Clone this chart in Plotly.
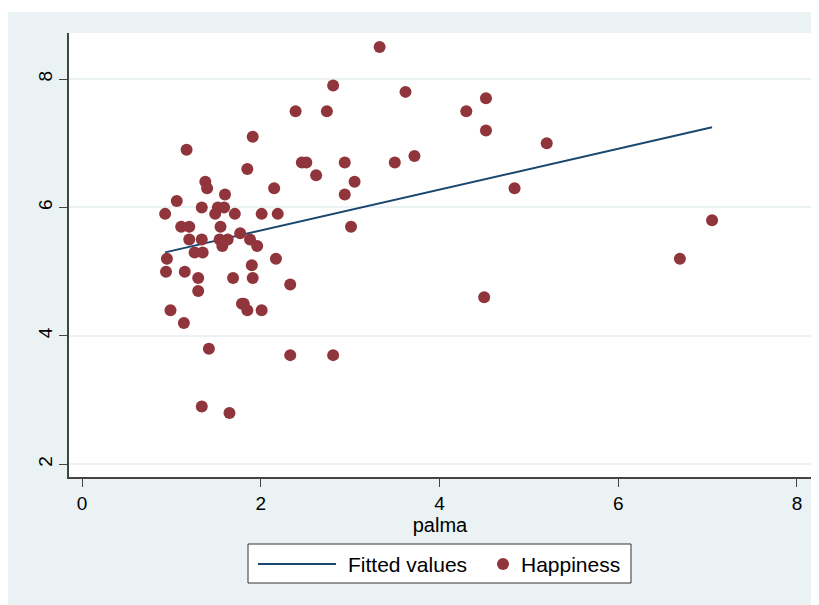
import plotly.graph_objects as go

palma = [0.93, 0.95, 0.94, 0.99, 1.06, 1.11, 1.14, 1.15, 1.17, 1.20, 1.20, 1.26,
         1.30, 1.30, 1.34, 1.34, 1.35, 1.34, 1.38, 1.40, 1.42, 1.49, 1.52, 1.54,
         1.55, 1.57, 1.59, 1.60, 1.63, 1.65, 1.69, 1.71, 1.77, 1.79, 1.81, 1.85,
         1.85, 1.88, 1.90, 1.91, 1.91, 1.96, 2.01, 2.01, 2.15, 2.17, 2.19, 2.33,
         2.33, 2.39, 2.46, 2.51, 2.62, 2.74, 2.81, 2.81, 2.94, 2.94, 3.01, 3.05,
         3.33, 3.50, 3.62, 3.72, 4.30, 4.50, 4.52, 4.52, 4.84, 5.20, 6.69, 7.05]
happiness = [5.9, 5.2, 5.0, 4.4, 6.1, 5.7, 4.2, 5.0, 6.9, 5.7, 5.5, 5.3,
             4.9, 4.7, 6.0, 5.5, 5.3, 2.9, 6.4, 6.3, 3.8, 5.9, 6.0, 5.5,
             5.7, 5.4, 6.0, 6.2, 5.5, 2.8, 4.9, 5.9, 5.6, 4.5, 4.5, 4.4,
             6.6, 5.5, 5.1, 7.1, 4.9, 5.4, 5.9, 4.4, 6.3, 5.2, 5.9, 4.8,
             3.7, 7.5, 6.7, 6.7, 6.5, 7.5, 7.9, 3.7, 6.7, 6.2, 5.7, 6.4,
             8.5, 6.7, 7.8, 6.8, 7.5, 4.6, 7.7, 7.2, 6.3, 7.0, 5.2, 5.8]

fit_x = [0.93, 7.05]
fit_y = [5.30, 7.25]

x_ticks = [0, 2, 4, 6, 8]
y_ticks = [2, 4, 6, 8]
legend_labels = ["Fitted values", "Happiness"]

BG = "#EAF2F3"
NAVY = "#1A476F"
MAROON = "#90353B"
AXIS = "#444444"
FONT = "Liberation Sans, Arial, sans-serif"

# page offset (body margin) and figure geometry
OFF = 8
W, H = 811, 597
L, R, T, B = 61, 8, 25, 128
pw, ph = W - L - R, H - T - B


def px2x(sx):
    return (sx - OFF - L) / pw


def px2y(sy):
    return (T + ph - (sy - OFF)) / ph


fig = go.Figure()
fig.add_trace(go.Scatter(x=fit_x, y=fit_y, mode="lines", name=legend_labels[0],
                         line=dict(color=NAVY, width=2), showlegend=False))
fig.add_trace(go.Scatter(x=palma, y=happiness, mode="markers", name=legend_labels[1],
                         marker=dict(color=MAROON, size=12, line=dict(width=0)),
                         showlegend=False))

shapes = [
    # white strip on top of the page
    dict(type="rect", xref="paper", yref="paper", x0=px2x(0), x1=px2x(830),
         y0=px2y(12), y1=px2y(0), fillcolor="white", line=dict(width=0), layer="below"),
    # legend box
    dict(type="rect", xref="paper", yref="paper", x0=px2x(248), x1=px2x(631),
         y0=px2y(583), y1=px2y(544), fillcolor="white",
         line=dict(color="#333333", width=1)),
    # legend line sample
    dict(type="line", xref="paper", yref="paper", x0=px2x(258), x1=px2x(336),
         y0=px2y(564), y1=px2y(564), line=dict(color=NAVY, width=2)),
    # legend marker sample
    dict(type="circle", xref="paper", yref="paper", x0=px2x(497), x1=px2x(509),
         y0=px2y(570), y1=px2y(558), fillcolor=MAROON, line=dict(width=0)),
]

annotations = [
    dict(text=legend_labels[0], xref="paper", yref="paper", x=px2x(346), y=px2y(564),
         xanchor="left", yanchor="middle", showarrow=False, font=dict(size=21)),
    dict(text=legend_labels[1], xref="paper", yref="paper", x=px2x(519), y=px2y(564),
         xanchor="left", yanchor="middle", showarrow=False, font=dict(size=21)),
]

fig.update_layout(
    width=W, height=H,
    margin=dict(l=L, r=R, t=T, b=B, autoexpand=False),
    paper_bgcolor=BG, plot_bgcolor="white",
    font=dict(family=FONT, size=19, color="black"),
    showlegend=False,
    xaxis=dict(range=[-0.1455, 8.157], tickvals=x_ticks, showgrid=False, zeroline=False,
               showline=True, linecolor=AXIS, linewidth=1.5, ticks="outside", ticklen=8,
               tickcolor=AXIS, tickfont=dict(size=19),
               title=dict(text="palma", font=dict(size=20), standoff=2)),
    yaxis=dict(range=[1.802, 8.717], tickvals=y_ticks, showgrid=True, gridcolor=BG,
               gridwidth=2, zeroline=False, showline=True, linecolor=AXIS, linewidth=1.5,
               ticks="outside", ticklen=8, tickcolor=AXIS, tickangle=-90,
               tickfont=dict(size=19)),
    shapes=shapes,
    annotations=annotations,
)

fig.write_html("out.html")
